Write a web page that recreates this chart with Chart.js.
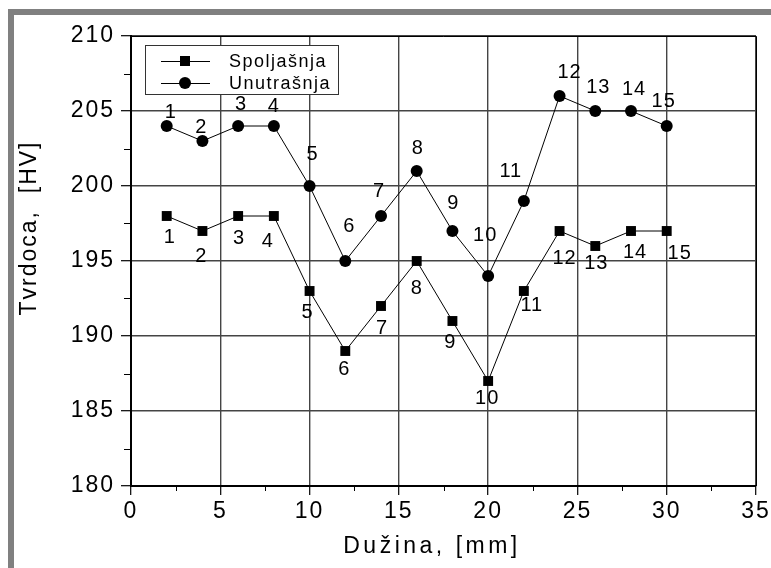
<!DOCTYPE html>
<html>
<head>
<meta charset="utf-8">
<script src="https://cdn.jsdelivr.net/npm/chart.js@4.4.0/dist/chart.umd.min.js"></script>
<style>
  html, body { margin: 0; padding: 0; background: #fff; }
  #wrap { width: 771px; height: 568px; position: relative; }
</style>
</head>
<body>
<div id="wrap"><canvas id="c" width="771" height="568"></canvas></div>
<script>
// ---- data ----
const positionsMm = [2, 4, 6, 8, 10, 12, 14, 16, 18, 20, 22, 24, 26, 28, 30];
const spoljasnja  = [198, 197, 198, 198, 193, 189, 192, 195, 191, 187, 193, 197, 196, 197, 197];
const unutrasnja  = [204, 203, 204, 204, 200, 195, 198, 201, 197, 194, 199, 206, 205, 205, 204];
const pointNumbers = ['1','2','3','4','5','6','7','8','9','10','11','12','13','14','15'];
const seriesNames = ['Spoljašnja', 'Unutrašnja'];
const xTitle = 'Dužina, [mm]';
const yTitle = 'Tvrdoca,  [HV]';

// label placement (pixel offsets from each point) – styling only
const offsetsS = [[3,21],[-1,25],[1,22],[-6,25],[-2,21],[-1,18],[1,22],[0,27],[-2,21],[-1,17],[8,14],[5,27],[1,17],[4,21],[13,22]];
const offsetsU = [[4,-14],[-1,-14],[3,-22],[0,-20],[3,-32],[4,-35],[-2,-25],[1,-23],[1,-28],[-3,-41],[-13,-30],[10,-24],[3,-24],[3,-22],[-3,-25]];

const FONT = '"Liberation Sans", Arial, sans-serif';

const canvas = document.getElementById('c');
const ctx0 = canvas.getContext('2d');
ctx0.__ls = '2px';
const origFillText = ctx0.fillText;
ctx0.fillText = function (t, x, y, mw) {
  try { this.letterSpacing = this.__ls; } catch (e) {}
  return mw === undefined ? origFillText.call(this, t, x, y) : origFillText.call(this, t, x, y, mw);
};

const framePlugin = {
  id: 'frame',
  beforeDraw(chart) {
    const ctx = chart.ctx;
    ctx.__ls = '2px';
    ctx.save();
    ctx.fillStyle = '#fff';
    ctx.fillRect(0, 0, chart.width, chart.height);
    ctx.fillStyle = '#808080';
    ctx.fillRect(8, 9, chart.width - 8, 6);
    ctx.fillRect(8, 9, 6, chart.height - 9);
    ctx.restore();
  },
  afterDraw(chart) {
    const ctx = chart.ctx;
    const a = chart.chartArea;
    const xs = chart.scales.x, ys = chart.scales.y;
    ctx.save();
    // top / right frame lines
    ctx.strokeStyle = '#000';
    ctx.lineWidth = 1;
    ctx.beginPath();
    ctx.moveTo(a.left, a.top + 0.5);
    ctx.lineTo(a.right + 0.5, a.top + 0.5);
    ctx.lineTo(a.right + 0.5, a.bottom);
    ctx.stroke();
    // minor ticks
    ctx.lineWidth = 1;
    ctx.beginPath();
    for (let v = 2.5; v < 35; v += 5) {
      const px = Math.round(xs.getPixelForValue(v)) + 0.5;
      ctx.moveTo(px, a.bottom);
      ctx.lineTo(px, a.bottom + 5);
    }
    for (let v = 182.5; v < 210; v += 5) {
      const py = Math.round(ys.getPixelForValue(v)) + 0.5;
      ctx.moveTo(a.left, py);
      ctx.lineTo(a.left - 7, py);
    }
    ctx.stroke();

    // x title
    ctx.fillStyle = '#000';
    ctx.font = '23px ' + FONT;
    ctx.textAlign = 'center';
    ctx.textBaseline = 'middle';
    ctx.__ls = '3.5px';
    ctx.fillText(xTitle, 432, 547);

    // y title
    ctx.__ls = '2px';
    ctx.translate(30, 228);
    ctx.rotate(-Math.PI / 2);
    ctx.fillText(yTitle, 0, 0);
    ctx.restore();

    // point labels
    ctx.save();
    ctx.__ls = '1px';
    ctx.fillStyle = '#000';
    ctx.font = '20px ' + FONT;
    ctx.textAlign = 'center';
    ctx.textBaseline = 'middle';
    const offs = [offsetsS, offsetsU];
    chart.data.datasets.forEach((ds, di) => {
      const meta = chart.getDatasetMeta(di);
      meta.data.forEach((pt, i) => {
        const o = offs[di][i];
        ctx.fillText(pointNumbers[i], pt.x + o[0], pt.y + o[1]);
      });
    });
    ctx.restore();

    // legend box
    ctx.save();
    ctx.__ls = '1.5px';
    const bx = 145, by = 45, bw = 193, bh = 49;
    ctx.fillStyle = '#fff';
    ctx.fillRect(bx, by, bw, bh);
    ctx.strokeStyle = '#333';
    ctx.lineWidth = 1;
    ctx.strokeRect(bx + 0.5, by + 0.5, bw, bh);
    const rows = [61, 83];
    chart.data.datasets.forEach((ds, di) => {
      const y = rows[di];
      ctx.strokeStyle = '#000';
      ctx.lineWidth = 1;
      ctx.beginPath();
      ctx.moveTo(161, y + 0.5);
      ctx.lineTo(210, y + 0.5);
      ctx.stroke();
      ctx.fillStyle = '#000';
      if (ds.pointStyle === 'rect') {
        ctx.fillRect(180, y - 5, 10, 10);
      } else {
        ctx.beginPath();
        ctx.arc(185, y, 6, 0, Math.PI * 2);
        ctx.fill();
      }
      ctx.font = '18px ' + FONT;
      ctx.textAlign = 'left';
      ctx.textBaseline = 'middle';
      ctx.fillText(ds.label, 229, y + 1);
    });
    ctx.restore();
    ctx.__ls = '2px';
  }
};

const makeData = (vals) => positionsMm.map((x, i) => ({ x: x, y: vals[i] }));

new Chart(canvas, {
  type: 'line',
  data: {
    datasets: [
      {
        label: seriesNames[0],
        data: makeData(spoljasnja),
        borderColor: '#000',
        borderWidth: 1,
        backgroundColor: '#000',
        pointStyle: 'rect',
        pointRadius: 7,
        pointBackgroundColor: '#000',
        pointBorderWidth: 0,
        tension: 0
      },
      {
        label: seriesNames[1],
        data: makeData(unutrasnja),
        borderColor: '#000',
        borderWidth: 1,
        backgroundColor: '#000',
        pointStyle: 'circle',
        pointRadius: 6,
        pointBackgroundColor: '#000',
        pointBorderWidth: 0,
        tension: 0
      }
    ]
  },
  options: {
    responsive: false,
    animation: false,
    events: [],
    layout: { padding: { left: 0, right: 15, top: 36, bottom: 0 } },
    plugins: { legend: { display: false }, tooltip: { enabled: false } },
    scales: {
      x: {
        type: 'linear',
        min: 0, max: 35,
        position: 'bottom',
        ticks: { stepSize: 5, color: '#000', padding: 3, font: { family: FONT, size: 23 } },
        grid: { color: '#444', lineWidth: 1.4, tickColor: '#000', tickLength: 9, tickWidth: 1.2 },
        border: { color: '#000', width: 2 },
        title: { display: false, text: xTitle },
        afterFit(s) { s.height = 82; s.paddingLeft = 0; s.paddingRight = 0; }
      },
      y: {
        min: 180, max: 210,
        ticks: { stepSize: 5, color: '#000', padding: 6, font: { family: FONT, size: 23 } },
        grid: { color: '#444', lineWidth: 1.4, tickColor: '#000', tickLength: 10, tickWidth: 1.2 },
        border: { color: '#000', width: 2 },
        title: { display: false, text: yTitle },
        afterFit(s) { s.width = 131; s.paddingTop = 0; s.paddingBottom = 0; }
      }
    }
  },
  plugins: [framePlugin]
});
</script>
</body>
</html>
